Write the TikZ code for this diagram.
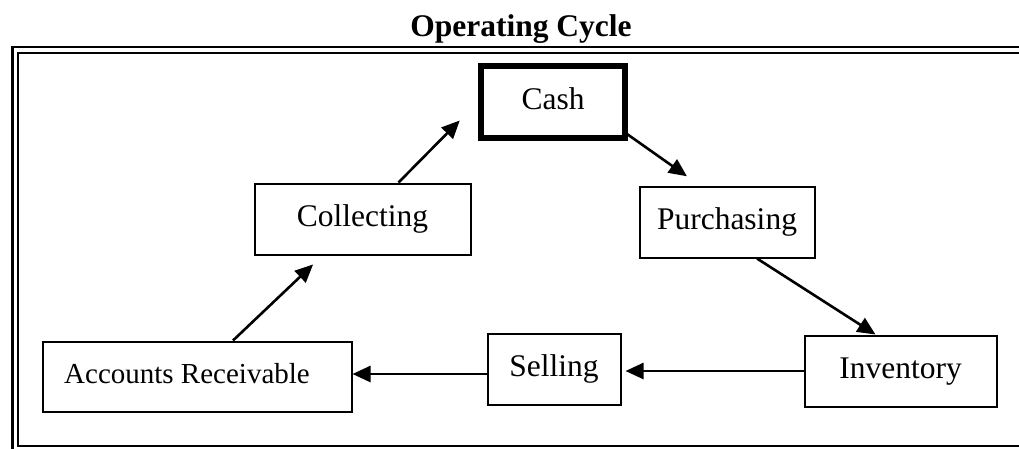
\documentclass[tikz,border=0pt]{standalone}
\usepackage{fontspec}
\setmainfont{Liberation Serif}
\usetikzlibrary{arrows.meta,calc}

\tikzset{
  stagebox/.style={draw=black, line width=2pt, rectangle, inner sep=0pt,
    font=\fontsize{31.5}{36}\selectfont, text height=21pt, text depth=7pt},
  flow/.style={line width=2.6pt, -{Triangle[length=18pt,width=16pt]}},
  framebar/.style={draw=black, line width=2.4pt},
}

\begin{document}
\begin{tikzpicture}[x=1pt,y=-1pt]
  \useasboundingbox (0,0) rectangle (1019,448);
  \clip (0,0) rectangle (1019,448);

  % heading
  \node[anchor=base, font=\fontsize{31.5}{36}\selectfont\bfseries] (title) at (521,36) {Operating Cycle};

  % double border round the cycle
  \draw[framebar] (12.5,47) rectangle (1040,470);
  \draw[framebar, line width=2pt] (17.5,52.5) rectangle (1035,446);

  % stages of the cycle
  \node[stagebox, line width=6pt, minimum width=144pt, minimum height=72pt] (cash) at (553,102) {Cash};
  \node[stagebox, minimum width=216pt, minimum height=71pt] (coll) at (362.5,219) {Collecting};
  \node[stagebox, minimum width=175pt, minimum height=71pt] (purch) at (727,222) {Purchasing};
  \node[stagebox, minimum width=192pt, minimum height=71pt] (inv) at (900.5,371) {Inventory};
  \node[stagebox, minimum width=133pt, minimum height=71pt] (sell) at (554,369) {Selling};
  \node[stagebox, minimum width=309pt, minimum height=70pt,
        font=\fontsize{29}{34}\selectfont] (ar) at (197,376.5) {Accounts Receivable\hspace*{20pt}};

  % flow between the stages
  \draw[flow, shorten >=26pt] ([xshift=36pt]coll.north) -- (cash.west);
  \draw[flow, shorten >=16pt] ($(cash.south east)+(-1,-7)$) -- ([xshift=-27pt]purch.north);
  \draw[flow] ([xshift=30pt]purch.south) -- ([xshift=-25pt]inv.north);
  \draw[flow, shorten >=4pt] (inv.west) -- (inv.west -| sell.east);
  \draw[flow] ([yshift=2.5pt]sell.west |- ar.east) -- ([yshift=2.5pt]ar.east);
  \draw[flow, shorten >=13pt] ([xshift=36pt]ar.north) -- ([xshift=-40pt]coll.south);
\end{tikzpicture}
\end{document}
